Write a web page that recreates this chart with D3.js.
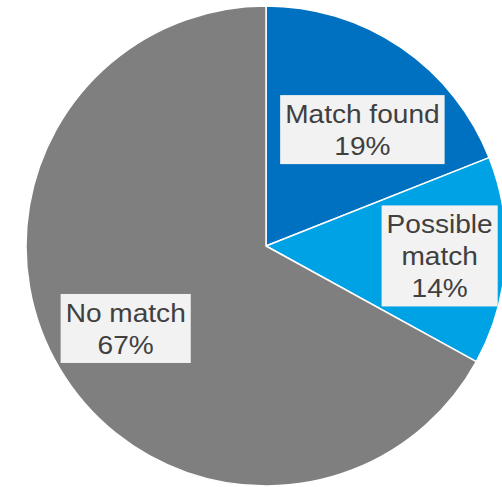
<!DOCTYPE html>
<html>
<head>
<meta charset="utf-8">
<script src="https://cdn.jsdelivr.net/npm/d3@7"></script>
<style>
  html, body { margin: 0; padding: 0; background: #ffffff; }
  svg { display: block; }
</style>
</head>
<body>
<svg id="chart" width="502" height="487"></svg>
<script>
// Search outcome shares (percent)
const categories = ["Match found", "Possible match", "No match"];
const values = [19, 14, 67];
const labelLines = [["Match found", "19%"], ["Possible", "match", "14%"], ["No match", "67%"]];
const colors = ["#0070C0", "#00A2E6", "#7F7F7F"];

const width = 502, height = 487;
const cx = 266, cy = 246, radius = 240;

// Label placement: distance of each label from the centre, plus a small nudge
const labelRadius = [151, 174, 163];
const labelNudge = [[11.5, 8.5], [0, -1], [0, -0.5]];

const fontSize = 26, lineStep = 32, stretchX = 1.08, capHalf = 9.3;

const svg = d3.select("#chart");
const g = svg.append("g").attr("transform", `translate(${cx},${cy})`);

const pie = d3.pie().sort(null).value(d => d)(values);
const arc = d3.arc().innerRadius(0).outerRadius(radius);

g.selectAll("path.slice")
  .data(pie)
  .join("path")
  .attr("class", "slice")
  .attr("d", arc)
  .attr("fill", (d, i) => colors[i])
  .attr("stroke", "#ffffff")
  .attr("stroke-width", 1.5)
  .attr("stroke-linejoin", "round");

const labels = g.selectAll("g.label")
  .data(pie)
  .join("g")
  .attr("class", "label")
  .attr("transform", (d, i) => {
    const a = (d.startAngle + d.endAngle) / 2;
    const x = Math.sin(a) * labelRadius[i] + labelNudge[i][0];
    const y = -Math.cos(a) * labelRadius[i] + labelNudge[i][1];
    return `translate(${x},${y})`;
  });

labels.each(function(d, i) {
  const grp = d3.select(this);
  const lines = labelLines[i];
  const n = lines.length;
  const rect = grp.append("rect").attr("fill", "#F2F2F2");
  const text = grp.append("text")
    .attr("text-anchor", "middle")
    .attr("font-family", "Liberation Sans, Arial, sans-serif")
    .attr("font-size", fontSize)
    .attr("fill", "#404040")
    .attr("transform", `scale(${stretchX},1)`);
  lines.forEach((ln, j) => {
    text.append("tspan")
      .attr("x", 0)
      .attr("y", -(n - 1) * lineStep / 2 + j * lineStep + capHalf)
      .text(ln);
  });
  const w = text.node().getBBox().width * stretchX + 10;
  const h = lineStep * n + 5;
  rect.attr("x", -w / 2).attr("y", -h / 2).attr("width", w).attr("height", h);
});
</script>
</body>
</html>
